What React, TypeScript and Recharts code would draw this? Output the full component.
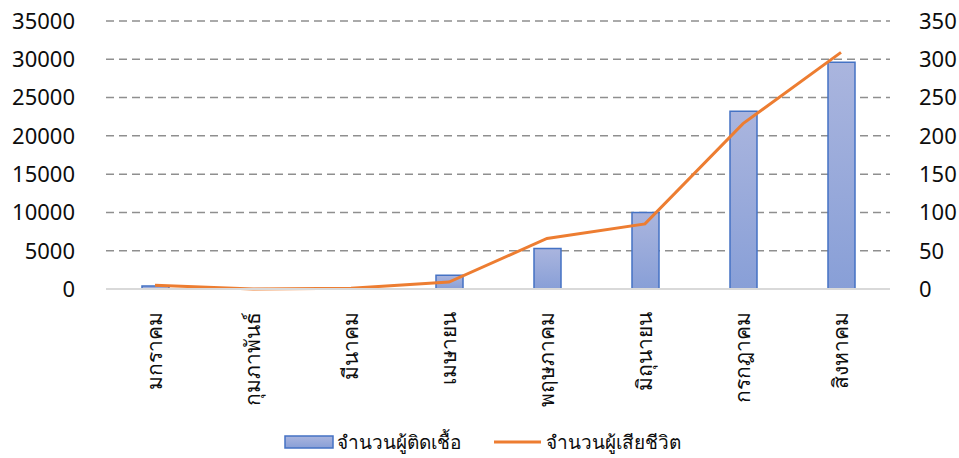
import { ComposedChart, Bar, Line, XAxis, YAxis, CartesianGrid, Legend } from 'recharts';

const months = ['มกราคม', 'กุมภาพันธ์', 'มีนาคม', 'เมษายน', 'พฤษภาคม', 'มิถุนายน', 'กรกฎาคม', 'สิงหาคม'];
const infected = [400, 40, 60, 1800, 5300, 10000, 23200, 29600];
const deaths = [5, 0, 1, 9, 66, 85, 216, 309];
const leftTicks = [0, 5000, 10000, 15000, 20000, 25000, 30000, 35000];
const rightTicks = [0, 50, 100, 150, 200, 250, 300, 350];

const infectedName = 'จำนวนผู้ติดเชื้อ';
const deathsName = 'จำนวนผู้เสียชีวิต';

const data = months.map((m, i) => ({ month: m, infected: infected[i], deaths: deaths[i] }));

const font = "'Noto Sans', 'Segoe UI', sans-serif";
const textColor = '#0d0d0d';

function MonthTick(props: any) {
  const { x, y, payload } = props;
  const ty = y + 21;
  return (
    <text
      x={x}
      y={ty}
      transform={`rotate(-90, ${x}, ${ty})`}
      textAnchor="end"
      dy="0.35em"
      fill={textColor}
      fontSize={21}
      fontFamily={font}
    >
      {payload.value}
    </text>
  );
}

function ChartLegend() {
  return (
    <div
      style={{
        display: 'flex',
        justifyContent: 'center',
        alignItems: 'center',
        height: 40,
        paddingTop: 7,
        boxSizing: 'border-box',
        fontFamily: font,
        fontSize: 19,
        color: textColor,
      }}
    >
      <span style={{ display: 'flex', alignItems: 'center', marginRight: 33, marginLeft: 5 }}>
        <svg width={50} height={14} style={{ marginRight: 3 }}>
          <rect x={1} y={1} width={48} height={12} fill="url(#barFill)" stroke="#4472c4" strokeWidth={1.5} />
        </svg>
        {infectedName}
      </span>
      <span style={{ display: 'flex', alignItems: 'center' }}>
        <svg width={47} height={14} style={{ marginRight: 5 }}>
          <line x1={0} y1={7} x2={47} y2={7} stroke="#ed7d31" strokeWidth={3} />
        </svg>
        {deathsName}
      </span>
    </div>
  );
}

export default function App() {
  return (
    <div style={{ position: 'absolute', left: 0, top: 0, width: 959, height: 458, background: '#fff' }}>
      <ComposedChart width={959} height={458} data={data} margin={{ top: 21, right: 0, bottom: 0, left: 0 }}>
        <defs>
          <linearGradient id="barFill" x1="0" y1="0" x2="0" y2="1">
            <stop offset="0%" stopColor="#aab5de" />
            <stop offset="100%" stopColor="#889fd7" />
          </linearGradient>
        </defs>
        <CartesianGrid vertical={false} yAxisId="left" stroke="#8f8f8f" strokeDasharray="8 5" strokeWidth={1.5} />
        <XAxis
          dataKey="month"
          height={129}
          interval={0}
          tick={<MonthTick />}
          tickLine={false}
          tickSize={0}
          axisLine={{ stroke: '#d9d9d9', strokeWidth: 2 }}
        />
        <YAxis
          yAxisId="left"
          orientation="left"
          width={106}
          domain={[0, 35000]}
          ticks={leftTicks}
          interval={0}
          tickLine={false}
          tickSize={0}
          tickMargin={31}
          axisLine={false}
          tick={{ fill: textColor, fontSize: 22, fontFamily: font }}
        />
        <YAxis
          yAxisId="right"
          orientation="right"
          width={69}
          domain={[0, 350]}
          ticks={rightTicks}
          interval={0}
          tickLine={false}
          tickSize={0}
          tickMargin={29}
          axisLine={false}
          tick={{ fill: textColor, fontSize: 22, fontFamily: font, textAnchor: 'start' }}
        />
        <Bar
          yAxisId="left"
          dataKey="infected"
          name={infectedName}
          barSize={27}
          fill="url(#barFill)"
          stroke="#4472c4"
          strokeWidth={1.5}
          isAnimationActive={false}
        />
        <Line
          yAxisId="right"
          dataKey="deaths"
          name={deathsName}
          type="linear"
          stroke="#ed7d31"
          strokeWidth={3}
          dot={false}
          activeDot={false}
          isAnimationActive={false}
        />
        <Legend verticalAlign="bottom" height={40} content={<ChartLegend />} />
      </ComposedChart>
    </div>
  );
}
